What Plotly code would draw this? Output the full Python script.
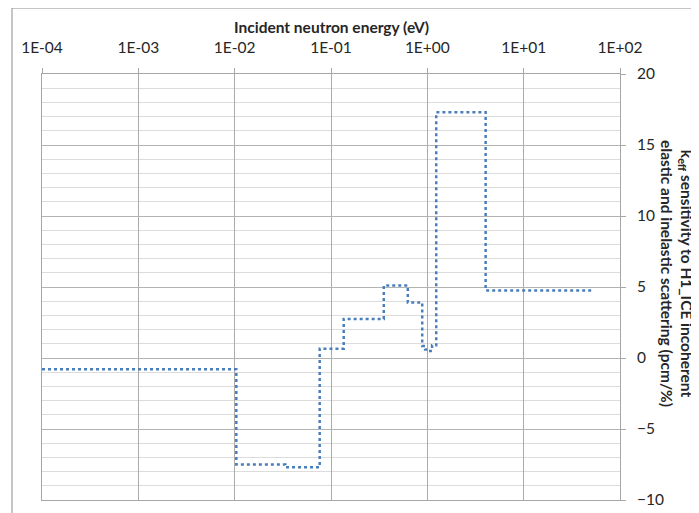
import plotly.graph_objects as go

# Group boundaries (eV) and sensitivity per group (pcm/%)
energy_bounds = [1e-4, 0.0104, 0.0336, 0.0763, 0.1355, 0.353, 0.627, 0.885,
                 0.95, 1.03, 1.12, 1.237, 4.03, 52.0]
sensitivity = [-0.8, -7.5, -7.7, 0.65, 2.75, 5.1, 3.9, 0.85, 0.6, 0.5, 0.9, 17.3, 4.75]

x_tickvals = [1e-4, 1e-3, 1e-2, 1e-1, 1e0, 1e1, 1e2]
x_ticktext = ["1E-04", "1E-03", "1E-02", "1E-01", "1E+00", "1E+01", "1E+02"]

x_title = "Incident neutron energy (eV)"
y_title = "k<sub>eff</sub> sensitivity to H1_ICE incoherent<br>elastic and inelastic scattering (pcm/%)"

FONT = "Lato, 'Open Sans', Arial, sans-serif"
TXT = "#262626"

fig = go.Figure()
fig.add_trace(go.Scatter(
    x=energy_bounds,
    y=sensitivity + [sensitivity[-1]],
    mode="lines",
    line=dict(shape="hv", color="#4a7ebb", width=2.5, dash="dot"),
    showlegend=False,
))

# page body has an 8px margin; positions below are screen pixels
OFF = 8
W, H = 691, 505
PL, PR, PT, PB = 42, 620, 74, 500  # plot area on screen
L, T = PL - OFF, PT - OFF
R = W - (PR - OFF)
B = H - (PB - OFF)
pw, ph = PR - PL, PB - PT

def px_x(p):
    return (p - PL) / pw

def px_y(p):
    return (PB - p) / ph

fig.update_layout(
    width=W, height=H,
    margin=dict(l=L, r=R, t=T, b=B, autoexpand=False),
    paper_bgcolor="white", plot_bgcolor="white",
    font=dict(family=FONT, size=15, color=TXT),
    xaxis=dict(
        type="log", range=[-4, 2], side="top", automargin=False,
        tickvals=x_tickvals, ticktext=x_ticktext,
        showgrid=True, gridcolor="#ababab", gridwidth=1,
        showline=True, linecolor="#a6a6a6", linewidth=1, mirror=True,
        ticks="outside", ticklen=5, tickcolor="#a6a6a6",
        ticklabelstandoff=9, zeroline=False,
        tickfont=dict(size=15.5, color=TXT),
    ),
    yaxis=dict(
        range=[-10, 20], side="right", dtick=5, tick0=0, automargin=False,
        showgrid=True, gridcolor="#b3b3b3", gridwidth=1,
        minor=dict(dtick=1, showgrid=True, gridcolor="#dcdcdc", gridwidth=1),
        showline=True, linecolor="#a6a6a6", linewidth=1, mirror=True,
        ticks="outside", ticklen=5, tickcolor="#a6a6a6",
        ticklabelstandoff=8, zeroline=False,
        tickfont=dict(size=15.5, color=TXT),
    ),
    annotations=[
        dict(text="<b>" + x_title + "</b>", xref="paper", yref="paper",
             x=px_x(331), y=px_y(27), xanchor="center", yanchor="middle",
             showarrow=False, font=dict(size=15.5, color=TXT)),
        dict(text="<b>" + y_title + "</b>", xref="paper", yref="paper",
             x=px_x(677), y=px_y(273), xanchor="center", yanchor="middle",
             textangle=90, showarrow=False, align="center",
             font=dict(size=15.5, color=TXT)),
    ],
    shapes=[
        dict(type="rect", xref="paper", yref="paper",
             x0=px_x(12), x1=px_x(760), y0=px_y(560), y1=px_y(8),
             line=dict(color="#8c8c8c", width=1), layer="below"),
    ],
)

fig.write_html("out.html")
